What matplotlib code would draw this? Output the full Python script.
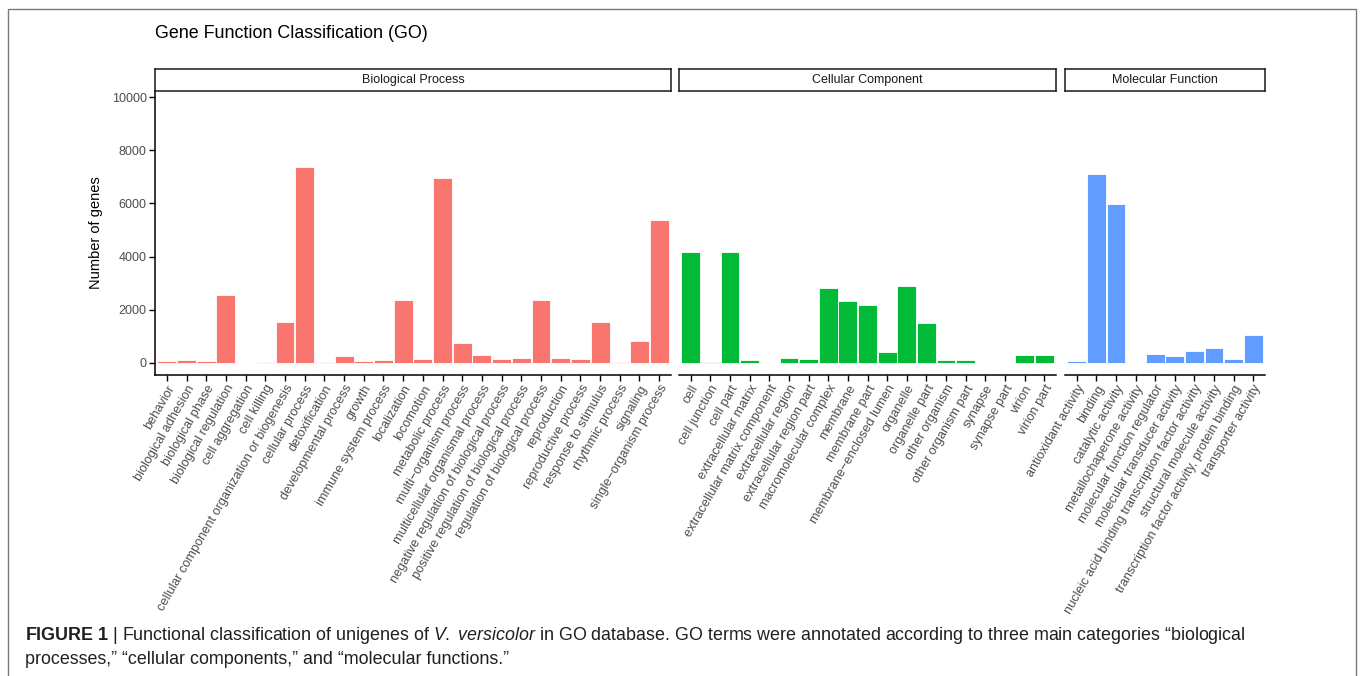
import matplotlib
matplotlib.use("Agg")
import matplotlib.pyplot as plt
import numpy as np
from matplotlib.patches import Rectangle

plt.rcParams['font.family'] = ['Liberation Sans', 'DejaVu Sans']
plt.rcParams['mathtext.fontset'] = 'custom'
plt.rcParams['mathtext.rm'] = 'Liberation Sans'
plt.rcParams['mathtext.it'] = 'Liberation Sans:italic'
plt.rcParams['mathtext.bf'] = 'Liberation Sans:bold'

# GO terms and gene counts per top-level category
bp_terms = [
    "behavior", "biological adhesion", "biological phase", "biological regulation",
    "cell aggregation", "cell killing", "cellular component organization or biogenesis",
    "cellular process", "detoxification", "developmental process", "growth",
    "immune system process", "localization", "locomotion", "metabolic process",
    "multi\u2212organism process", "multicellular organismal process",
    "negative regulation of biological process", "positive regulation of biological process",
    "regulation of biological process", "reproduction", "reproductive process",
    "response to stimulus", "rhythmic process", "signaling", "single\u2212organism process",
]
bp_counts = [60, 100, 50, 2550, 10, 40, 1540, 7380, 40, 240, 50, 110, 2360, 150, 6940,
             730, 300, 140, 175, 2370, 175, 160, 1540, 30, 815, 5370]

cc_terms = [
    "cell", "cell junction", "cell part", "extracellular matrix",
    "extracellular matrix component", "extracellular region", "extracellular region part",
    "macromolecular complex", "membrane", "membrane part", "membrane\u2212enclosed lumen",
    "organelle", "organelle part", "other organism", "other organism part", "synapse",
    "synapse part", "virion", "virion part",
]
cc_counts = [4180, 40, 4180, 90, 10, 175, 160, 2810, 2320, 2160, 400, 2890, 1505,
             90, 90, 10, 10, 300, 300]

mf_terms = [
    "antioxidant activity", "binding", "catalytic activity", "metallochaperone activity",
    "molecular function regulator", "molecular transducer activity",
    "nucleic acid binding transcription factor activity", "structural molecule activity",
    "transcription factor activity, protein binding", "transporter activity",
]
mf_counts = [75, 7115, 5960, 10, 315, 240, 440, 565, 150, 1030]

panels = [
    ("Biological Process", bp_terms, bp_counts, "#F8766D", 155, 671),
    ("Cellular Component", cc_terms, cc_counts, "#00BA38", 679, 1056),
    ("Molecular Function", mf_terms, mf_counts, "#619CFF", 1065, 1265),
]

W, H = 1360, 676
fig = plt.figure(figsize=(W / 100, H / 100), dpi=100)

# outer frame of the figure
fig.add_artist(Rectangle((8 / W, -0.01), (1355.5 - 8) / W, (H - 9) / H + 0.01,
                         transform=fig.transFigure, fill=False,
                         edgecolor="#7a7a7a", linewidth=1.0))

fig.text(155 / W, 1 - 34 / H, "Gene Function Classification (GO)",
         fontsize=12.9, color="black", va="center", ha="left")

ax_top, ax_bot = 91, 374.5
strip_top = 69

for i, (name, terms, counts, color, x0, x1) in enumerate(panels):
    ax = fig.add_axes([x0 / W, 1 - ax_bot / H, (x1 - x0) / W, (ax_bot - ax_top) / H])
    x = np.arange(len(terms))
    ax.bar(x, counts, width=0.96, color=color, edgecolor="white", linewidth=0.6)
    ax.set_xlim(-0.6, len(terms) - 0.4)
    ax.set_ylim(-440, 10230)
    ax.set_xticks(x)
    ax.set_xticklabels(terms, rotation=60, ha="right", va="top",
                       rotation_mode="anchor", fontsize=9.2, color="#4d4d4d")
    ax.tick_params(axis="x", length=4, width=1.0, color="black", pad=2)
    for s in ("top", "right"):
        ax.spines[s].set_visible(False)
    ax.spines["bottom"].set_linewidth(1.1)
    if i == 0:
        ax.set_yticks(np.arange(0, 10001, 2000))
        ax.tick_params(axis="y", length=4, width=1.0, color="black", pad=2,
                       labelsize=9, labelcolor="#4d4d4d")
        ax.spines["left"].set_linewidth(1.1)
        ax.set_ylabel("Number of genes", fontsize=10.5, labelpad=6)
    else:
        ax.spines["left"].set_visible(False)
        ax.set_yticks([])

    # facet strip
    sax = fig.add_axes([x0 / W, 1 - ax_top / H, (x1 - x0) / W, (ax_top - strip_top) / H])
    sax.set_xticks([])
    sax.set_yticks([])
    for s in sax.spines.values():
        s.set_linewidth(1.1)
        s.set_color("#1a1a1a")
    sax.text(0.5, 0.5, name, ha="center", va="center", fontsize=9, color="#1a1a1a",
             transform=sax.transAxes)

cap1 = (r"$\mathbf{FIGURE\ 1}$ | Functional classification of unigenes of "
        r"$\mathit{V.}$ $\mathit{versicolor}$ in GO database. GO terms were annotated according "
        "to three main categories \u201cbiological")
cap2 = "processes,\u201d \u201ccellular components,\u201d and \u201cmolecular functions.\u201d"
fig.text(25 / W, 1 - 636 / H, cap1, fontsize=12.9, color="#231f20", va="center", ha="left")
fig.text(25 / W, 1 - 660 / H, cap2, fontsize=12.9, color="#231f20", va="center", ha="left")

fig.savefig("out.png", dpi=100)
